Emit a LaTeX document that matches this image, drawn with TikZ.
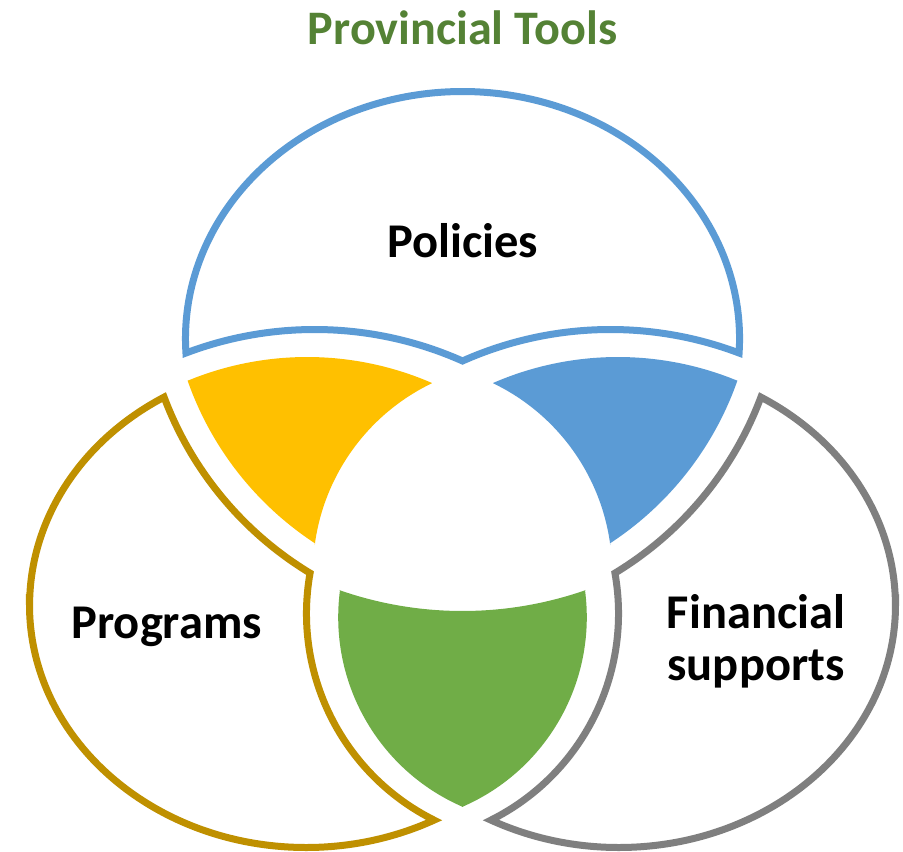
\documentclass[tikz,border=0pt]{standalone}
\usepackage{fontspec}
\setmainfont{Carlito}
\usetikzlibrary{calc}
\definecolor{cblue}{HTML}{5B9BD5}
\definecolor{cgold}{HTML}{BF9000}
\definecolor{cgray}{HTML}{7F7F7F}
\definecolor{cyellow}{HTML}{FFC000}
\definecolor{cgreen}{HTML}{70AD47}
\definecolor{ctitle}{HTML}{548235}
\begin{document}
\begin{tikzpicture}[x=0.02cm,y=-0.02cm,
  shapeline/.style={line width=0.14cm, line join=miter, miter limit=6, fill=white},
  lbl/.style={font=\fontsize{27.6}{29.5}\selectfont\bfseries, inner sep=0pt, anchor=base, text=black, align=center}]
\useasboundingbox (0,0) rectangle (903,852);

% Policies (top)
\draw[shapeline, draw=cblue] ($(462.5,338.5)+(270:277.07 and 247)$)
  arc[start angle=270, end angle=363.37, x radius=277.07, y radius=247]
  arc[start angle=290.72, end angle=245.98, radius=363.5]
  arc[start angle=294.02, end angle=249.28, radius=363.5]
  arc[start angle=176.63, end angle=270, x radius=277.07, y radius=247]
  -- cycle;

% Programs (left)
\draw[shapeline, draw=cgold] ($(306.3,605)+(180:276.8 and 242.5)$)
  arc[start angle=180, end angle=62.5, x radius=276.8, y radius=242.5]
  arc[start angle=116.57, end angle=190.10, radius=230.9]
  arc[start angle=121.21, end angle=159.43, radius=349.2]
  arc[start angle=239.06, end angle=180, x radius=276.8, y radius=242.5]
  -- cycle;

% Financial supports (right)
\draw[shapeline, draw=cgray] ($(618.7,605)+(0:276.8 and 242.5)$)
  arc[start angle=0, end angle=117.5, x radius=276.8, y radius=242.5]
  arc[start angle=63.43, end angle=-10.10, radius=230.9]
  arc[start angle=58.79, end angle=20.57, radius=349.2]
  arc[start angle=-59.06, end angle=0, x radius=276.8, y radius=242.5]
  -- cycle;

% yellow overlap
\fill[cyellow] ($(307.1,670)+(247.9:313)$) arc[start angle=247.9, end angle=293.5, radius=313]
  -- ($(522.9,572.5)+(244.26:210)$) arc[start angle=244.26, end angle=187.5, radius=210]
  -- ($(491,274.3)+(123.18:321.5)$) arc[start angle=123.18, end angle=160.69, radius=321.5]
  -- cycle;

% blue overlap
\fill[cblue] ($(617.9,670)+(-113.5:313)$) arc[start angle=-113.5, end angle=-67.9, radius=313]
  -- ($(434,274.3)+(19.31:321.5)$) arc[start angle=19.31, end angle=56.82, radius=321.5]
  -- ($(402.1,572.5)+(-7.5:210)$) arc[start angle=-7.5, end angle=-64.26, radius=210]
  -- cycle;

% green overlap
\fill[cgreen] ($(462.5,237.4)+(109.3:373.6)$) arc[start angle=109.3, end angle=70.7, radius=373.6]
  -- ($(380.1,617.2)+(-7.56:206.7)$) arc[start angle=-7.56, end angle=66.66, radius=206.7]
  -- ($(544.9,617.2)+(113.34:206.7)$) arc[start angle=113.34, end angle=187.56, radius=206.7]
  -- cycle;

% labels
\node[lbl, text=ctitle, font=\fontsize{27.4}{30}\selectfont\bfseries] (title) at (462.5,44) {Provincial Tools};
\node[lbl] (policies) at (462.5,257) {Policies};
\node[lbl] (programs) at (166.7,638.3) {Programs};
\node[lbl] (financial) at (756,680) {Financial\\supports};
\end{tikzpicture}
\end{document}
